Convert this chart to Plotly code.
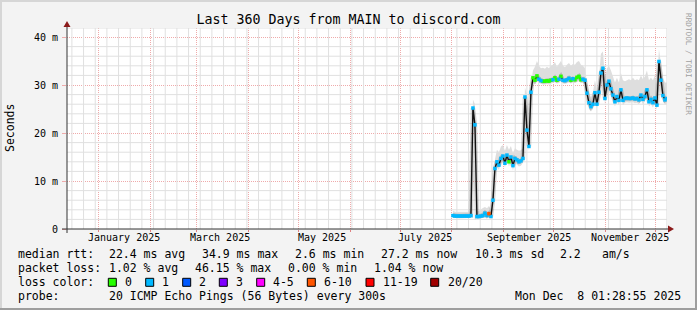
import plotly.graph_objects as go
import pandas as pd

# ---------------- data ----------------
x_start = "2024-12-13 01:28:55"
x_end = "2025-12-08 01:28:55"
data_start = "2025-08-01 15:00"
data_step = "1728min"   # 1.2 days between samples

median_ms = [
    2.8, 2.7, 2.7, 2.7, 2.7, 2.7, 2.7, 2.7, 2.7, 2.8,
    25.2, 21.7,
    2.6, 2.6, 2.7, 2.8, 3.3, 2.8, 3.2, 2.6,
    6.0, 12.6, 14.0, 13.3, 14.7, 15.2, 13.7, 15.4, 14.0, 15.0, 13.2, 14.7, 14.4, 14.0, 14.2, 14.7,
    27.5, 20.6, 17.2, 28.5, 31.5,
    31.0, 31.9, 31.2, 30.9, 30.8, 30.8, 30.9, 30.8, 31.0, 31.1, 31.5, 31.0, 31.2, 31.8, 31.0, 30.9,
    31.1, 31.4, 31.0, 31.3, 31.1, 31.6, 31.8, 31.1, 31.2, 31.0,
    28.3, 26.3, 25.5, 26.0, 28.4, 26.0, 28.5,
    32.5, 33.5, 27.2, 30.0, 30.8, 29.2, 27.9, 26.5, 27.6, 26.8, 29.0, 26.8, 27.2, 27.3, 27.2, 27.2,
    27.3, 27.1, 27.2, 26.9, 27.9, 27.0, 27.6, 29.0, 26.5, 27.0, 26.3, 27.3, 25.8, 34.9, 31.0, 27.8,
    26.9, 27.2,
]

smoke_high_ms = [
    3.8, 3.6, 3.6, 3.6, 3.6, 3.6, 3.6, 3.6, 3.6, 3.8,
    27.0, 26.0,
    3.6, 3.8, 4.2, 4.4, 4.6, 4.3, 4.8, 4.0,
    8.0, 14.5, 16.5, 16.0, 17.2, 17.5, 16.3, 17.5, 16.5, 17.3, 15.8, 16.8, 16.5, 16.3, 16.4, 16.8,
    29.5, 28.0, 20.5, 30.0, 33.0,
    33.8, 35.0, 34.0, 33.5, 33.6, 33.4, 33.8, 33.5, 34.0, 34.2, 34.8, 33.8, 34.3, 35.0, 34.0, 33.7,
    34.2, 34.6, 34.0, 34.4, 34.2, 34.8, 35.0, 34.2, 34.0, 33.5,
    30.5, 28.5, 27.5, 28.5, 31.0, 29.0, 31.5,
    36.5, 37.0, 31.5, 33.5, 34.0, 33.0, 31.5, 30.5, 31.5, 30.5, 32.5, 31.0, 30.8, 31.0, 31.2, 31.0,
    31.5, 31.0, 31.2, 31.0, 32.0, 31.2, 31.8, 33.0, 31.0, 31.5, 31.0, 32.0, 30.0, 37.5, 34.5, 31.5,
    30.5, 30.5,
]

smoke_low_ms = [
    2.3, 2.3, 2.3, 2.3, 2.3, 2.3, 2.3, 2.3, 2.3, 2.3,
    22.5, 20.0,
    2.2, 2.2, 2.3, 2.3, 2.5, 2.3, 2.4, 2.2,
    5.0, 11.5, 13.0, 12.3, 13.8, 14.2, 12.8, 14.4, 13.0, 14.0, 12.2, 13.8, 13.4, 13.0, 13.2, 13.8,
    24.5, 19.5, 16.2, 26.5, 30.5,
    30.2, 30.8, 30.4, 30.2, 30.1, 30.1, 30.2, 30.1, 30.3, 30.4, 30.6, 30.3, 30.4, 30.8, 30.3, 30.2,
    30.4, 30.5, 30.3, 30.5, 30.4, 30.6, 30.8, 30.4, 30.4, 30.2,
    27.0, 25.0, 24.5, 25.0, 27.0, 25.0, 27.0,
    30.0, 31.0, 26.0, 28.5, 29.5, 28.0, 26.8, 25.5, 26.6, 25.8, 27.8, 25.8, 26.3, 26.4, 26.3, 26.3,
    26.4, 26.2, 26.3, 26.0, 26.8, 26.0, 26.6, 27.8, 25.5, 26.0, 25.3, 26.3, 24.8, 31.5, 29.5, 26.7,
    25.9, 26.2,
]

# loss class index per sample (0 -> "0", 1 -> "1", 5 -> "6-10")
loss_class = [
    1, 1, 1, 1, 1, 1, 1, 1, 1, 1,
    1, 1,
    1, 1, 1, 1, 1, 1, 5, 1,
    1, 1, 1, 1, 1, 1, 1, 1, 0, 1, 1, 1, 1, 1, 1, 1,
    1, 1, 1, 1, 0,
    0, 0, 1, 1, 0, 0, 0, 0, 0, 1, 0, 0, 1, 0, 1, 1, 1, 1, 0, 1, 0, 0, 0, 0, 1, 1,
    1, 1, 1, 1, 1, 1, 1,
    1, 1, 1, 1, 1, 1, 1, 1, 1, 1, 1, 1, 1, 1, 1, 1,
    1, 1, 1, 1, 1, 1, 1, 1, 1, 1, 1, 1, 1, 1, 1, 1,
    1, 1,
]

loss_labels = ["0", "1", "2", "3", "4-5", "6-10", "11-19", "20/20"]
loss_colors = ["#26ff00", "#00b8ff", "#0059ff", "#7e00ff", "#ff00ff", "#ff5500", "#ff0000", "#a10000"]

y_tick_vals = [0, 10, 20, 30, 40]
y_tick_text = ["0", "10 m", "20 m", "30 m", "40 m"]
y_minor_vals = [2, 4, 6, 8, 12, 14, 16, 18, 22, 24, 26, 28, 32, 34, 36, 38, 41.875]
month_label_dates = ["2025-01-16", "2025-03-15", "2025-05-15", "2025-07-16", "2025-09-16", "2025-11-16"]
month_labels = ["January 2025", "March 2025", "May 2025", "July 2025", "September 2025", "November 2025"]

title_text = "Last 360 Days from MAIN to discord.com"
stats_rtt = ["median rtt:", "22.4 ms avg", "34.9 ms max", "2.6 ms min", "27.2 ms now", "10.3 ms sd", "2.2", "am/s"]
stats_loss = ["packet loss:", "1.02 % avg", "46.15 % max", "0.00 % min", "1.04 % now"]
probe_text = ["probe:", "20 ICMP Echo Pings (56 Bytes) every 300s", "Mon Dec  8 01:28:55 2025"]

# ---------------- layout geometry (pixels) ----------------
W, H = 697, 310
PL, PR, PT, PB = 67, 667, 28, 229
Y_MAX = 41.875


def px(x):
    return (x - PL) / (PR - PL)


def py(y):
    return (PB - y) / (PB - PT)


MONO = "DejaVu Sans Mono"
times = pd.date_range(data_start, periods=len(median_ms), freq=data_step)

# weekly minor grid positions (Mondays that are not month starts)
mondays = [d for d in pd.date_range("2024-12-16", x_end, freq="7D") if d.day != 1]

RED_GRID = "#efaaaa"
GRAY_GRID = "#e0e0e0"

fig = go.Figure()

# minor grid as thin light grey line traces beneath the data
gx, gy = [], []
for d in mondays:
    gx += [d, d, None]
    gy += [0, Y_MAX, None]
for v in y_minor_vals:
    gx += [pd.Timestamp(x_start), pd.Timestamp(x_end), None]
    gy += [v, v, None]
fig.add_trace(go.Scatter(x=gx, y=gy, mode="lines", connectgaps=False, hoverinfo="skip",
                         line=dict(color=GRAY_GRID, width=1)))

# smoke band
fig.add_trace(go.Scatter(x=times, y=smoke_low_ms, mode="lines", line=dict(width=0),
                         hoverinfo="skip"))
fig.add_trace(go.Scatter(x=times, y=smoke_high_ms, mode="lines", line=dict(width=0),
                         fill="tonexty", fillcolor="#dedede", hoverinfo="skip"))
# darker smoke near the median
fig.add_trace(go.Scatter(x=times, y=median_ms, mode="lines",
                         line=dict(color="rgba(0,0,0,0.16)", width=4.5), hoverinfo="skip"))
# median line
fig.add_trace(go.Scatter(x=times, y=median_ms, mode="lines",
                         line=dict(color="#111111", width=1.4)))
# loss coloured median marks
for ci, col in enumerate(loss_colors):
    xs = [t for t, c in zip(times, loss_class) if c == ci]
    ys = [v for v, c in zip(median_ms, loss_class) if c == ci]
    if xs:
        fig.add_trace(go.Scatter(x=xs, y=ys, mode="markers",
                                 marker=dict(symbol="square", size=3.5, color=col,
                                             line=dict(width=0))))

fig.update_layout(
    width=W, height=H,
    margin=dict(l=PL, r=W - PR, t=PT, b=H - PB, pad=0),
    paper_bgcolor="#f3f3f3", plot_bgcolor="#ffffff",
    showlegend=False,
    font=dict(family=MONO, size=10, color="#000000"),
    title=dict(text=title_text, x=0.5, xref="container", xanchor="center",
               y=1 - 19 / H, yanchor="middle", font=dict(family=MONO, size=13.3, color="#000")),
    xaxis=dict(type="date", range=[x_start, x_end], showticklabels=False,
               showgrid=True, gridcolor=RED_GRID, griddash="1px,1px", gridwidth=1,
               dtick="M1", tick0="2025-01-01", ticks="outside", ticklen=2, tickcolor="#e08080",
               zeroline=False, showline=False, fixedrange=True),
    yaxis=dict(range=[0, Y_MAX], tickmode="array", tickvals=y_tick_vals, ticktext=y_tick_text,
               showgrid=True, gridcolor=RED_GRID, griddash="1px,1px", gridwidth=1,
               ticks="outside", ticklen=4, tickcolor=RED_GRID, ticklabelstandoff=2,
               zeroline=False, showline=False,
               tickfont=dict(family=MONO, size=10, color="#000")),
)

shapes = []
# frame (3D border)
shapes.append(dict(type="line", xref="paper", yref="paper", x0=px(0), x1=px(W), y0=py(1), y1=py(1),
                   line=dict(color="#d6d6d6", width=2)))
shapes.append(dict(type="line", xref="paper", yref="paper", x0=px(1), x1=px(1), y0=py(0), y1=py(H),
                   line=dict(color="#d6d6d6", width=2)))
shapes.append(dict(type="line", xref="paper", yref="paper", x0=px(0), x1=px(W), y0=py(H - 1), y1=py(H - 1),
                   line=dict(color="#9e9e9e", width=2)))
shapes.append(dict(type="line", xref="paper", yref="paper", x0=px(W - 1), x1=px(W - 1), y0=py(0), y1=py(H),
                   line=dict(color="#9e9e9e", width=2)))
# axes with arrows
shapes.append(dict(type="line", xref="paper", yref="paper", x0=px(62), x1=px(669), y0=py(229), y1=py(229),
                   line=dict(color="#333333", width=1), layer="above"))
shapes.append(dict(type="line", xref="paper", yref="paper", x0=px(67), x1=px(67), y0=py(233), y1=py(25),
                   line=dict(color="#333333", width=1), layer="above"))
shapes.append(dict(type="path", xref="paper", yref="paper",
                   path=f"M {px(668)},{py(225.5)} L {px(674)},{py(229)} L {px(668)},{py(232.5)} Z",
                   fillcolor="#8b1a1a", line=dict(width=0), layer="above"))
shapes.append(dict(type="path", xref="paper", yref="paper",
                   path=f"M {px(63.5)},{py(27)} L {px(67)},{py(21)} L {px(70.5)},{py(27)} Z",
                   fillcolor="#8b1a1a", line=dict(width=0), layer="above"))

annotations = []


def text_at(x, y, s, size=11.5, color="#000", anchor="left", angle=0):
    annotations.append(dict(x=px(x), y=py(y), xref="paper", yref="paper", text=s, showarrow=False,
                            xanchor=anchor, yanchor="middle", textangle=angle,
                            font=dict(family=MONO, size=size, color=color)))


# month labels on the time axis
for d, lab in zip(month_label_dates, month_labels):
    annotations.append(dict(x=d, y=py(237.7), xref="x", yref="paper", text=lab, showarrow=False,
                            xanchor="center", yanchor="middle",
                            font=dict(family=MONO, size=10, color="#000")))

# y axis title and vertical credit
text_at(10, 128, "Seconds", size=11.5, anchor="center", angle=-90)
text_at(688, 64, "RRDTOOL / TOBI OETIKER", size=7.7, color="#a0a0a0", anchor="center", angle=90)

# legend rows
rtt_x = [16, 107.3, 200, 293.3, 379.3, 472.7, 558.3, 600]
for xx, s in zip(rtt_x, stats_rtt):
    text_at(xx, 254.3, s)
loss_x = [16, 107.3, 192.7, 286, 372.3]
for xx, s in zip(loss_x, stats_loss):
    text_at(xx, 268.3, s)
text_at(16, 282.3, "loss color:")
box_x = [108.3, 145.7, 182.7, 219.3, 256.7, 307.3, 366, 430.7]
lab_x = [123.3, 160, 197.3, 234.3, 270.7, 321.7, 380.7, 445.7]
for bx, lx, col, lab in zip(box_x, lab_x, loss_colors, loss_labels):
    shapes.append(dict(type="rect", xref="paper", yref="paper",
                       x0=px(bx), x1=px(bx + 8), y0=py(278.3), y1=py(286.3),
                       fillcolor=col, line=dict(color="#000000", width=1)))
    text_at(lx, 282.3, lab)
probe_x = [16, 107.3, 512.7]
for xx, s in zip(probe_x, probe_text):
    text_at(xx, 296, s)

fig.update_layout(shapes=shapes, annotations=annotations)
fig.write_html("out.html")
